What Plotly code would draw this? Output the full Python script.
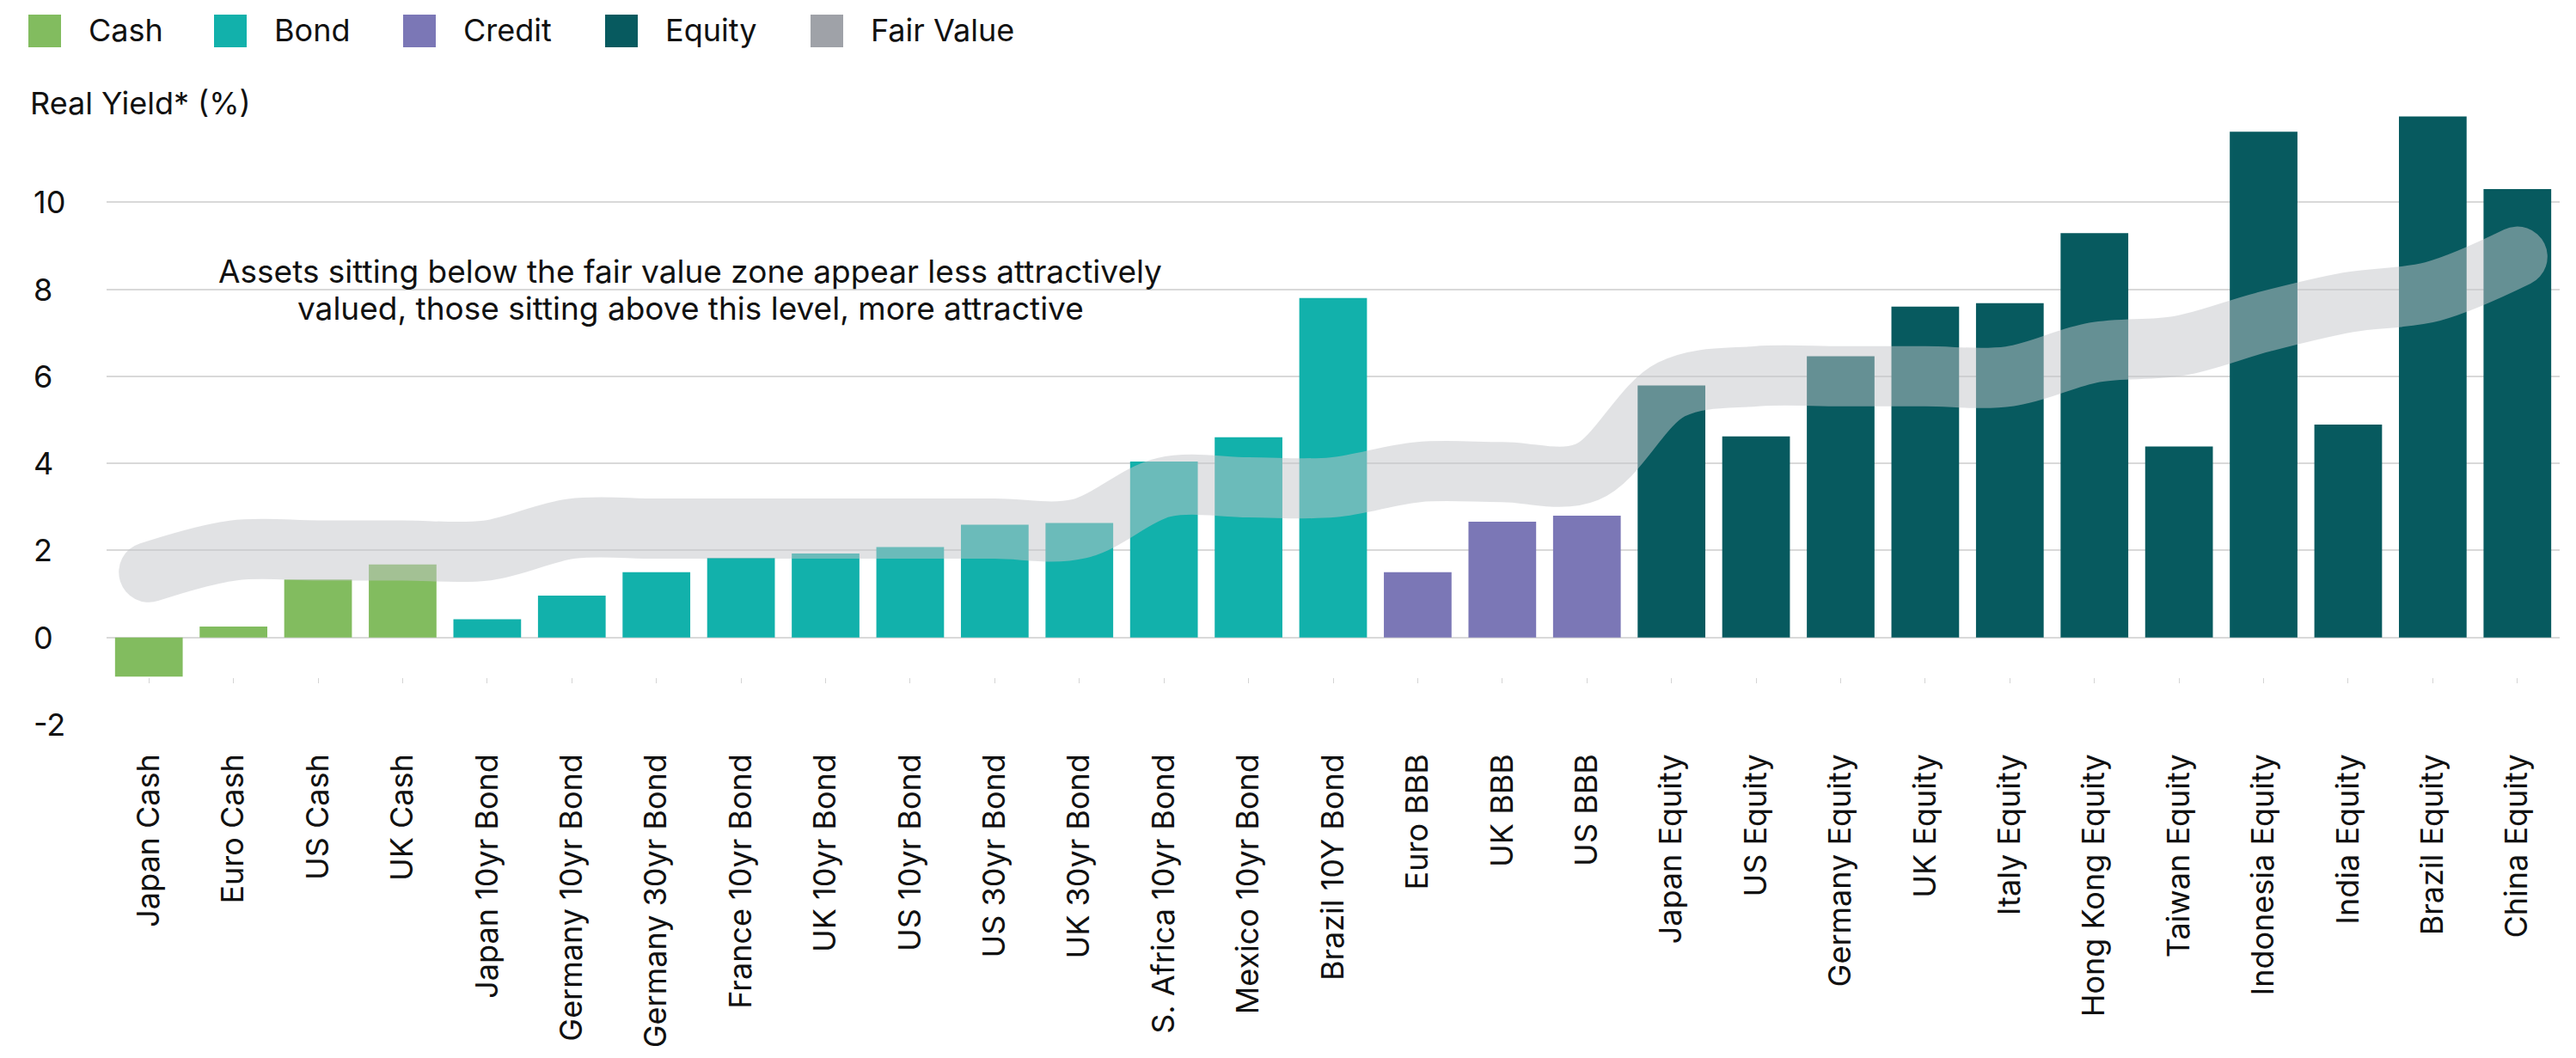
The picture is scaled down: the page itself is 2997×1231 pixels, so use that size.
import plotly.graph_objects as go

# ---- data -------------------------------------------------------------
assets = [
    "Japan Cash", "Euro Cash", "US Cash", "UK Cash",
    "Japan 10yr Bond", "Germany 10yr Bond", "Germany 30yr Bond", "France 10yr Bond",
    "UK 10yr Bond", "US 10yr Bond", "US 30yr Bond", "UK 30yr Bond",
    "S. Africa 10yr Bond", "Mexico 10yr Bond", "Brazil 10Y Bond",
    "Euro BBB", "UK BBB", "US BBB",
    "Japan Equity", "US Equity", "Germany Equity", "UK Equity", "Italy Equity",
    "Hong Kong Equity", "Taiwan Equity", "Indonesia Equity", "India Equity",
    "Brazil Equity", "China Equity",
]
asset_class = (["Cash"] * 4 + ["Bond"] * 11 + ["Credit"] * 3 + ["Equity"] * 11)
real_yield = [
    -0.9, 0.25, 1.33, 1.68,
    0.42, 0.96, 1.5, 1.83, 1.93, 2.08, 2.59, 2.63, 4.04, 4.6, 7.8,
    1.5, 2.66, 2.8,
    5.79, 4.62, 6.46, 7.6, 7.68, 9.29, 4.39, 11.62, 4.89, 11.97, 10.3,
]
fair_value = [
    1.5, 2.0, 2.0, 2.0, 2.0, 2.5, 2.5, 2.5, 2.5, 2.5, 2.5, 2.5,
    3.45, 3.45, 3.45, 3.8, 3.8, 3.8,
    5.7, 6.0, 6.0, 6.0, 6.0, 6.55, 6.7, 7.25, 7.7, 7.95, 8.75,
]
legend_items = ["Cash", "Bond", "Credit", "Equity", "Fair Value"]
y_ticks = [-2, 0, 2, 4, 6, 8, 10]
y_title = "Real Yield* (%)"
note_lines = [
    "Assets sitting below the fair value zone appear less attractively",
    "valued, those sitting above this level, more attractive",
]

# ---- styling ----------------------------------------------------------
colors = {
    "Cash": "#82bc5f",
    "Bond": "#12b1ab",
    "Credit": "#7b77b6",
    "Equity": "#075a5f",
    "Fair Value": "#9fa2a8",
}
band_color = "rgba(195,197,202,0.5)"
grid_color = "#d9d9d9"
text_color = "#111111"
FONT = "Inter"
FS = 36

W, H = 2997, 1231
ML, MR, MT, MB = 124, 19, 134, 374
PW, PH = W - ML - MR, H - MT - MB


def px_x(p):
    return (p - ML) / PW


def px_y(p):
    return (H - MB - p) / PH


fig = go.Figure()

fig.add_trace(go.Bar(
    x=assets,
    y=real_yield,
    marker=dict(color=[colors[c] for c in asset_class], line=dict(width=0)),
    showlegend=False,
    hoverinfo="x+y",
))

fig.add_trace(go.Scatter(
    x=assets,
    y=fair_value,
    mode="lines",
    line=dict(color=band_color, width=70, shape="spline", smoothing=1),
    showlegend=False,
    hoverinfo="skip",
))

# invisible copy on a secondary category axis that only carries the small tick marks
fig.add_trace(go.Scatter(
    x=assets, y=fair_value, xaxis="x2", mode="lines",
    line=dict(width=0), opacity=0, showlegend=False, hoverinfo="skip",
))

shapes = []
annotations = []

# legend: square swatch followed by its label
swatch_left = [33, 249, 469, 704, 943]
swatch_size = 38
legend_cy = 34
for name, left in zip(legend_items, swatch_left):
    shapes.append(dict(
        type="rect", xref="paper", yref="paper",
        xsizemode="pixel", ysizemode="pixel",
        xanchor=px_x(left), yanchor=px_y(legend_cy),
        x0=0, x1=swatch_size, y0=-swatch_size / 2, y1=swatch_size / 2,
        fillcolor=colors[name], line=dict(width=0), layer="above",
    ))
    annotations.append(dict(
        text=name, xref="paper", yref="paper",
        x=px_x(left + 68), y=px_y(legend_cy - 1),
        xanchor="left", yanchor="middle", showarrow=False,
        font=dict(family=FONT, size=FS, color=text_color),
    ))

# axis title
annotations.append(dict(
    text=y_title, xref="paper", yref="paper",
    x=px_x(33), y=px_y(120), xanchor="left", yanchor="middle",
    showarrow=False, font=dict(family=FONT, size=FS, color=text_color),
))

# left-aligned y tick labels
for v in y_ticks:
    annotations.append(dict(
        text=str(v), xref="paper", yref="y",
        x=px_x(37), y=v, xanchor="left", yanchor="middle",
        showarrow=False, font=dict(family=FONT, size=FS, color=text_color),
    ))

# explanatory note
for line, cy in zip(note_lines, [319, 363]):
    annotations.append(dict(
        text=line, xref="paper", yref="paper",
        x=px_x(803), y=px_y(cy), xanchor="center", yanchor="middle",
        showarrow=False, font=dict(family=FONT, size=37, color=text_color),
    ))

fig.update_layout(
    width=W, height=H, autosize=False,
    margin=dict(l=ML, r=MR, t=MT, b=MB, pad=0),
    paper_bgcolor="white", plot_bgcolor="white",
    bargap=0.2,
    showlegend=False,
    font=dict(family=FONT, size=FS, color=text_color),
    shapes=shapes,
    annotations=annotations,
    xaxis=dict(
        type="category", range=[-0.5, len(assets) - 0.5],
        tickangle=-90, showgrid=False, showline=False, zeroline=False,
        ticks="", ticklabelstandoff=26,
        tickfont=dict(family=FONT, size=FS, color=text_color),
        fixedrange=True,
    ),
    xaxis2=dict(
        type="category", overlaying="x", anchor="free", side="bottom",
        position=px_y(801), range=[-0.5, len(assets) - 0.5],
        categoryorder="array", categoryarray=assets,
        ticks="outside", ticklen=6, tickwidth=1, tickcolor="#d4d4d4",
        showticklabels=False, showgrid=False, showline=False, zeroline=False,
        fixedrange=True,
    ),
    yaxis=dict(
        range=[-2, 12], tickvals=y_ticks, showticklabels=False,
        showgrid=True, gridcolor=grid_color, gridwidth=2,
        zeroline=True, zerolinecolor=grid_color, zerolinewidth=2,
        showline=False, ticks="", fixedrange=True,
    ),
)

round_caps = (
    "document.querySelectorAll('.scatterlayer path.js-line').forEach("
    "function(p){p.style.strokeLinecap='round';p.style.strokeLinejoin='round';});"
)

fig.write_html("out.html", post_script=round_caps, config={"displayModeBar": False})
